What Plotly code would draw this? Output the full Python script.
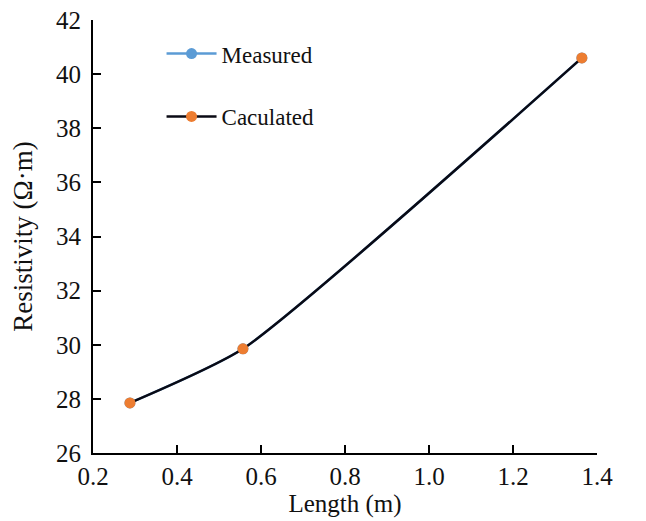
import plotly.graph_objects as go

length_m = [0.288, 0.557, 1.364]
measured = [27.85, 29.85, 40.6]
calculated = [27.85, 29.85, 40.6]
x_ticks = [0.2, 0.4, 0.6, 0.8, 1.0, 1.2, 1.4]
x_tick_labels = ["0.2", "0.4", "0.6", "0.8", "1.0", "1.2", "1.4"]
y_ticks = [26, 28, 30, 32, 34, 36, 38, 40, 42]

font = "Liberation Serif, Times New Roman, serif"

fig = go.Figure()
fig.add_trace(go.Scatter(
    x=length_m, y=measured, name="Measured", mode="lines+markers",
    line=dict(color="#5b9bd5", width=2.5, shape="spline", smoothing=0.55),
    marker=dict(color="#5b9bd5", size=11), legendgroup="m",
))
fig.add_trace(go.Scatter(
    x=length_m, y=calculated, name="Caculated", mode="lines+markers",
    line=dict(color="#0a0a14", width=2.5, shape="spline", smoothing=0.55),
    marker=dict(color="#ed7d31", size=11), legendgroup="c",
))

fig.update_layout(
    width=638, height=511,
    margin=dict(l=85, r=49, t=12, b=66, autoexpand=False),
    paper_bgcolor="white", plot_bgcolor="white",
    font=dict(family=font, size=24, color="#111"),
    showlegend=True,
    legend=dict(x=0.136, y=0.972, xanchor="left", yanchor="top",
                bgcolor="rgba(0,0,0,0)", tracegroupgap=30, itemwidth=50,
                font=dict(family=font, size=23)),
    xaxis=dict(range=[0.2, 1.4], tickvals=x_ticks, ticktext=x_tick_labels,
               showline=True, linecolor="black", linewidth=2, automargin=False,
               ticks="inside", ticklen=8, tickwidth=1.5, tickcolor="black",
               showgrid=False, zeroline=False, ticklabelstandoff=0,
               ticklabeloverflow="allow",
               tickfont=dict(family=font, size=25),
               title=dict(text="Length (m)", font=dict(family=font, size=25), standoff=0)),
    yaxis=dict(range=[26, 42], tickvals=y_ticks,
               showline=True, linecolor="black", linewidth=2, automargin=False,
               ticks="inside", ticklen=8, tickwidth=1.5, tickcolor="black",
               showgrid=False, zeroline=False, ticklabelstandoff=5,
               ticklabeloverflow="allow",
               tickfont=dict(family=font, size=25),
               title=dict(text="Resistivity (Ω·m)", font=dict(family=font, size=27), standoff=16)),
)

fig.write_html("out.html")
